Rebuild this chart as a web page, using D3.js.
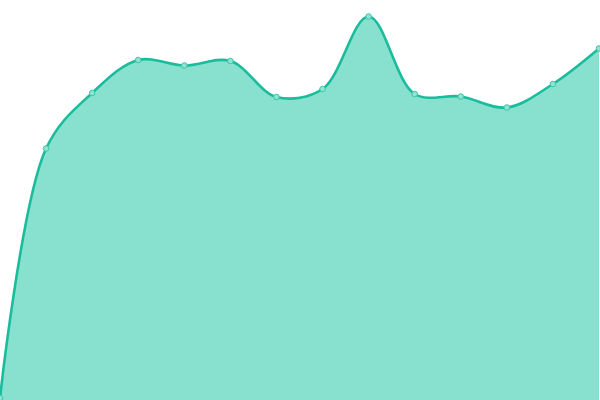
<!DOCTYPE html>
<html><head><meta charset="utf-8">
<script src="https://cdn.jsdelivr.net/npm/d3@7"></script>
<style>html,body{margin:0;padding:0;background:#fff;overflow:hidden}</style>
</head><body>
<svg id="c" width="600" height="400"></svg>
<script>
const categories = [0,1,2,3,4,5,6,7,8,9,10,11,12,13];
const values = [2, 251.5, 307, 340, 334.5, 339, 303, 311, 383.5, 306, 303.5, 292.5, 316, 351.5];

const W = 600, H = 400;
const svg = d3.select("#c");
const x = d3.scaleLinear().domain([0, categories.length - 1]).range([0, 599]);
const y = d3.scaleLinear().domain([0, 400]).range([400, 0]);
const data = categories.map((c, i) => ({c, v: values[i]}));

const curve = d3.curveCatmullRom.alpha(0.5);
svg.append("path").datum(data)
  .attr("d", d3.area().x(d => x(d.c)).y0(y(0)).y1(d => y(d.v)).curve(curve))
  .attr("fill", "#88e0cf");
svg.append("path").datum(data)
  .attr("d", d3.line().x(d => x(d.c)).y(d => y(d.v)).curve(curve))
  .attr("fill", "none").attr("stroke", "#1abc9c").attr("stroke-width", 2.6);
svg.selectAll("circle").data(data).join("circle")
  .attr("cx", d => x(d.c)).attr("cy", d => y(d.v)).attr("r", 2.8)
  .attr("fill", "#8fe3d2").attr("stroke", "#3cc8a8").attr("stroke-width", 1);
</script>
</body></html>
